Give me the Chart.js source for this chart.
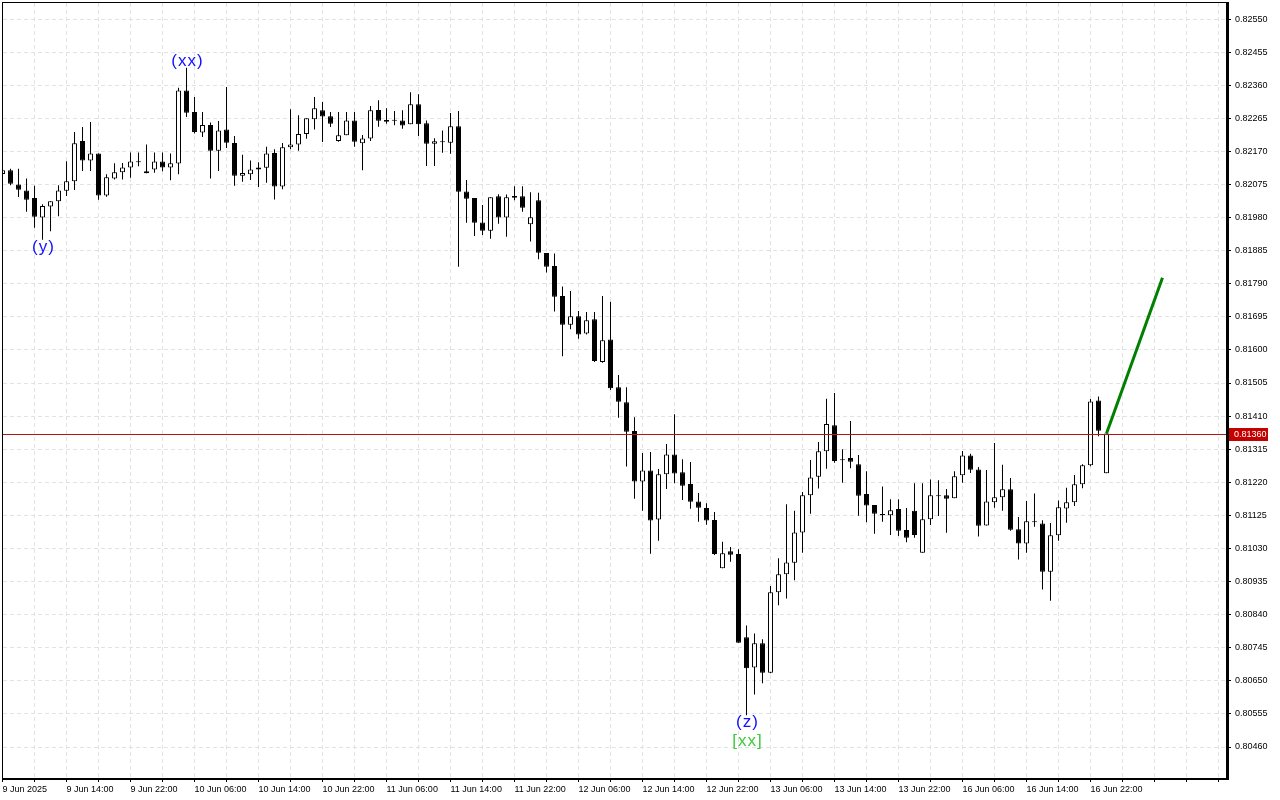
<!DOCTYPE html>
<html>
<head>
<meta charset="utf-8">
<script src="https://cdn.jsdelivr.net/npm/chart.js@4.4.1/dist/chart.umd.min.js"></script>
<style>
 body { margin: 0; background: #fff; }
 canvas { display: block; }
</style>
</head>
<body>
<canvas id="chart" width="1280" height="800"></canvas>
<script>
const opens = [
 0.82105,0.82116,0.82075,0.82058,0.82036,0.81980,0.82012,0.82027,0.82057,0.82084,
 0.82200,0.82144,0.82164,0.82043,0.82092,0.82110,0.82124,0.82141,0.82113,0.82118,
 0.82141,0.82124,0.82135,0.82345,0.82283,0.82224,0.82246,0.82172,0.82233,0.82194,
 0.82100,0.82104,0.82118,0.82123,0.82165,0.82069,0.82182,0.82190,0.82220,0.82262,
 0.82288,0.82271,0.82200,0.82216,0.82259,0.82193,0.82207,0.82289,0.82260,0.82259,
 0.82259,0.82248,0.82305,0.82251,0.82192,0.82196,0.82195,0.82242,0.82055,0.82036,
 0.81966,0.81942,0.82041,0.81980,0.82042,0.82041,0.81961,0.82030,0.81878,0.81841,
 0.81755,0.81672,0.81697,0.81647,0.81688,0.81565,0.81630,0.81493,0.81450,0.81367,
 0.81222,0.81254,0.81113,0.81243,0.81300,0.81249,0.81215,0.81165,0.81146,0.81112,
 0.80973,0.81022,0.81014,0.80775,0.80688,0.80758,0.80673,0.80904,0.80956,0.80989,
 0.81076,0.81183,0.81236,0.81309,0.81384,0.81286,0.81290,0.81272,0.81186,0.81155,
 0.81129,0.81125,0.81143,0.81083,0.81138,0.81018,0.81114,0.81180,0.81183,0.81174,
 0.81240,0.81297,0.81257,0.81096,0.81163,0.81177,0.81200,0.81085,0.81044,0.81105,
 0.81102,0.80963,0.81068,0.81145,0.81163,0.81214,0.81269,0.81455,0.81246
];
const highs = [
 0.82125,0.82120,0.82120,0.82092,0.82071,0.82018,0.82027,0.82073,0.82142,0.82226,
 0.82240,0.82254,0.82164,0.82104,0.82136,0.82137,0.82167,0.82167,0.82190,0.82167,
 0.82167,0.82164,0.82353,0.82410,0.82326,0.82283,0.82253,0.82257,0.82355,0.82214,
 0.82160,0.82144,0.82139,0.82183,0.82176,0.82194,0.82291,0.82274,0.82265,0.82326,
 0.82312,0.82283,0.82283,0.82283,0.82283,0.82217,0.82300,0.82317,0.82294,0.82286,
 0.82288,0.82340,0.82334,0.82259,0.82208,0.82230,0.82280,0.82286,0.82088,0.82036,
 0.82016,0.82038,0.82047,0.82046,0.82070,0.82070,0.82053,0.82051,0.81878,0.81877,
 0.81782,0.81769,0.81712,0.81709,0.81709,0.81755,0.81738,0.81528,0.81493,0.81407,
 0.81304,0.81307,0.81258,0.81330,0.81415,0.81286,0.81278,0.81189,0.81160,0.81135,
 0.81049,0.81034,0.81028,0.80809,0.80786,0.80769,0.80922,0.81002,0.81157,0.81138,
 0.81192,0.81284,0.81336,0.81460,0.81476,0.81315,0.81396,0.81298,0.81252,0.81155,
 0.81208,0.81171,0.81171,0.81146,0.81217,0.81217,0.81228,0.81226,0.81201,0.81252,
 0.81310,0.81302,0.81264,0.81255,0.81333,0.81270,0.81232,0.81120,0.81166,0.81188,
 0.81111,0.81103,0.81168,0.81204,0.81241,0.81272,0.81459,0.81466,0.81360
];
const lows = [
 0.82096,0.82073,0.82039,0.81997,0.81951,0.81916,0.81941,0.81984,0.82042,0.82059,
 0.82114,0.82114,0.82031,0.82040,0.82089,0.82089,0.82094,0.82127,0.82107,0.82109,
 0.82113,0.82087,0.82104,0.82269,0.82221,0.82211,0.82092,0.82114,0.82180,0.82071,
 0.82083,0.82088,0.82068,0.82080,0.82032,0.82061,0.82176,0.82172,0.82206,0.82233,
 0.82197,0.82240,0.82198,0.82216,0.82183,0.82116,0.82200,0.82241,0.82249,0.82245,
 0.82235,0.82248,0.82214,0.82128,0.82128,0.82166,0.82163,0.81839,0.81965,0.81927,
 0.81930,0.81919,0.81962,0.81925,0.82030,0.81997,0.81911,0.81860,0.81822,0.81710,
 0.81582,0.81659,0.81632,0.81644,0.81565,0.81563,0.81485,0.81405,0.81265,0.81173,
 0.81138,0.81015,0.81052,0.81201,0.81217,0.81169,0.81144,0.81107,0.81098,0.81011,
 0.80973,0.80992,0.80759,0.80551,0.80611,0.80643,0.80672,0.80867,0.80886,0.80939,
 0.81018,0.81130,0.81202,0.81259,0.81276,0.81219,0.81260,0.81124,0.81105,0.81072,
 0.81107,0.81069,0.81066,0.81048,0.81061,0.81018,0.81097,0.81123,0.81075,0.81174,
 0.81219,0.81247,0.81064,0.81096,0.81147,0.81138,0.81081,0.80998,0.81018,0.81092,
 0.80912,0.80880,0.81052,0.81104,0.81152,0.81203,0.81266,0.81352,0.81246
];
const closes = [
 0.82116,0.82077,0.82060,0.82031,0.81982,0.82013,0.82027,0.82058,0.82084,0.82193,
 0.82144,0.82164,0.82043,0.82096,0.82110,0.82124,0.82141,0.82139,0.82107,0.82141,
 0.82124,0.82136,0.82345,0.82281,0.82226,0.82246,0.82172,0.82230,0.82195,0.82100,
 0.82108,0.82118,0.82124,0.82164,0.82069,0.82182,0.82190,0.82220,0.82265,0.82294,
 0.82270,0.82249,0.82216,0.82259,0.82198,0.82207,0.82288,0.82258,0.82255,0.82258,
 0.82244,0.82305,0.82248,0.82192,0.82199,0.82197,0.82242,0.82054,0.82034,0.81965,
 0.81942,0.82038,0.81980,0.82038,0.82037,0.82008,0.81981,0.81879,0.81839,0.81753,
 0.81672,0.81697,0.81644,0.81685,0.81568,0.81628,0.81490,0.81451,0.81365,0.81222,
 0.81254,0.81110,0.81243,0.81300,0.81245,0.81210,0.81164,0.81147,0.81110,0.81014,
 0.81016,0.81012,0.80759,0.80686,0.80758,0.80673,0.80904,0.80956,0.80990,0.81076,
 0.81183,0.81234,0.81309,0.81387,0.81281,0.81283,0.81279,0.81181,0.81153,0.81130,
 0.81125,0.81140,0.81081,0.81061,0.81069,0.81114,0.81183,0.81181,0.81173,0.81237,
 0.81297,0.81256,0.81095,0.81165,0.81177,0.81200,0.81084,0.81044,0.81108,0.81106,
 0.80963,0.81068,0.81148,0.81163,0.81214,0.81269,0.81452,0.81368,0.81360
];

// one label every 8 hourly bars, starting at bar 0
const timeLabels = ["9 Jun 2025", "9 Jun 14:00", "9 Jun 22:00", "10 Jun 06:00", "10 Jun 14:00",
 "10 Jun 22:00", "11 Jun 06:00", "11 Jun 14:00", "11 Jun 22:00", "12 Jun 06:00", "12 Jun 14:00",
 "12 Jun 22:00", "13 Jun 06:00", "13 Jun 14:00", "13 Jun 22:00", "16 Jun 06:00", "16 Jun 14:00",
 "16 Jun 22:00"];
const priceTicks = [0.82550, 0.82455, 0.82360, 0.82265, 0.82170, 0.82075, 0.81980, 0.81885,
 0.81790, 0.81695, 0.81600, 0.81505, 0.81410, 0.81315, 0.81220, 0.81125, 0.81030, 0.80935,
 0.80840, 0.80745, 0.80650, 0.80555, 0.80460];

// projected move (green)
const projBars = [138, 145];
const projPrices = [0.81360, 0.81807];

// wave marks
const waveText = ["(y)", "(xx)", "(z)", "[xx]"];
const waveBar = [5, 23, 93, 93];
const waveColor = ["#1010ff", "#1010ff", "#1010ff", "#3ccc3c"];

const bodies = opens.map((o, i) => ({ x: i, y: [o, closes[i]] }));
const wicks = lows.map((l, i) => ({ x: i, y: [l, highs[i]] }));
const bodyFill = opens.map((o, i) => closes[i] >= o ? "#ffffff" : "#000000");

const overlay = {
 id: "overlay",
 afterDatasetsDraw(chart) {
  const { ctx, chartArea: a, scales } = chart;
  const ys = scales.y, xs = scales.x;
  ctx.save();
  // bid line
  const py = Math.round(ys.getPixelForValue(closes[closes.length - 1])) + 0.5;
  ctx.strokeStyle = "#b01818";
  ctx.lineWidth = 1;
  ctx.beginPath();
  ctx.moveTo(a.left, py);
  ctx.lineTo(a.right, py);
  ctx.stroke();
  // wave labels
  ctx.font = "17px 'Liberation Sans', Arial, sans-serif";
  ctx.letterSpacing = "1px";
  ctx.textAlign = "center";
  waveText.forEach((t, k) => {
   const b = waveBar[k];
   const x = xs.getPixelForValue(b) + 1;
   ctx.fillStyle = waveColor[k];
   if (t === "(xx)") {
    ctx.textBaseline = "bottom";
    ctx.fillText(t, x, ys.getPixelForValue(highs[b]) + 2);
   } else {
    ctx.textBaseline = "top";
    const extra = k === 3 ? 19 : 0;
    ctx.fillText(t, x, ys.getPixelForValue(lows[b]) - 1 + extra);
   }
  });
  ctx.restore();
 },
 afterDraw(chart) {
  const { ctx, chartArea: a, scales } = chart;
  ctx.save();
  ctx.fillStyle = "#000";
  ctx.fillRect(a.left - 1, a.top - 1, a.right - a.left + 1, 1);
  ctx.fillRect(a.left - 1, a.top - 1, 1, a.bottom - a.top + 1);
  ctx.fillRect(a.left - 1, a.bottom, a.right - a.left + 4, 2);
  ctx.fillRect(a.right, a.top - 1, 3, a.bottom - a.top + 3);
  // price tag
  const last = closes[closes.length - 1];
  const py = Math.round(scales.y.getPixelForValue(last));
  ctx.fillStyle = "#c40000";
  ctx.fillRect(a.right + 3, py - 6, 39, 13);
  ctx.fillStyle = "#fff";
  ctx.font = "9px 'Liberation Sans', Arial, sans-serif";
  ctx.textAlign = "left";
  ctx.textBaseline = "middle";
  ctx.fillText(last.toFixed(5), a.right + 8, py + 1);
  ctx.restore();
 }
};

new Chart(document.getElementById("chart").getContext("2d"), {
 type: "bar",
 data: {
  datasets: [
   {
    type: "line",
    data: projBars.map((b, i) => ({ x: b, y: projPrices[i] })),
    borderColor: "#008000",
    borderWidth: 3,
    pointRadius: 0
   },
   {
    data: bodies,
    backgroundColor: bodyFill,
    borderColor: "#000",
    borderWidth: 1,
    borderSkipped: false,
    barThickness: 5,
    minBarLength: 1,
    inflateAmount: 0,
    grouped: false
   },
   {
    data: wicks,
    backgroundColor: "#000",
    borderWidth: 0,
    barThickness: 1,
    inflateAmount: 0,
    grouped: false
   }
  ]
 },
 options: {
  responsive: false,
  animation: false,
  events: [],
  layout: { padding: { left: 3, top: 3, right: 0, bottom: 0 } },
  plugins: { legend: { display: false }, tooltip: { enabled: false } },
  scales: {
   x: {
    type: "linear",
    min: 0.06,
    max: 152.94,
    offset: false,
    afterBuildTicks: s => {
     s.ticks = [];
     for (let v = 0; v <= 152; v += 4) s.ticks.push({ value: v });
    },
    afterFit: s => { s.height = 22; s.paddingLeft = 0; s.paddingRight = 0; },
    grid: { offset: false, color: "#e2e2e2", tickColor: "#000", tickLength: 4, tickBorderDash: [] },
    border: { display: false, dash: [4, 3] },
    ticks: {
     autoSkip: false,
     maxRotation: 0,
     align: "start",
     padding: 2,
     color: "#000",
     font: { family: "'Liberation Sans', Arial, sans-serif", size: 9 },
     callback: v => (v % 8 === 0 && v / 8 < timeLabels.length) ? timeLabels[v / 8] : ""
    }
   },
   y: {
    position: "right",
    min: 0.80371,
    max: 0.82596,
    afterBuildTicks: s => { s.ticks = priceTicks.map(v => ({ value: v })); },
    afterFit: s => { s.width = 54; s.paddingTop = 0; s.paddingBottom = 0; },
    grid: { color: "#e2e2e2", tickColor: "#000", tickLength: 5, tickBorderDash: [] },
    border: { display: false, dash: [4, 3] },
    ticks: {
     padding: 4,
     color: "#000",
     font: { family: "'Liberation Sans', Arial, sans-serif", size: 9 },
     callback: v => v.toFixed(5)
    }
   }
  }
 },
 plugins: [overlay]
});
</script>
</body>
</html>
